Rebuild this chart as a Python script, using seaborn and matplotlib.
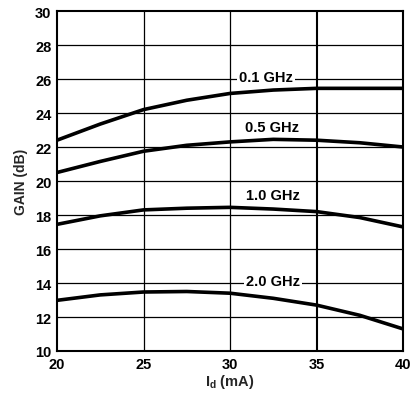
import matplotlib
matplotlib.use("Agg")
import matplotlib.pyplot as plt
import seaborn as sns
import pandas as pd

# Data
current_ma = [20, 22.5, 25, 27.5, 30, 32.5, 35, 37.5, 40]
gain_01 = [22.4, 23.35, 24.2, 24.75, 25.15, 25.35, 25.45, 25.45, 25.45]
gain_05 = [20.5, 21.15, 21.75, 22.1, 22.3, 22.45, 22.4, 22.25, 22.0]
gain_10 = [17.45, 17.95, 18.3, 18.4, 18.45, 18.35, 18.2, 17.85, 17.3]
gain_20 = [12.98, 13.3, 13.47, 13.5, 13.4, 13.1, 12.7, 12.1, 11.3]
freq_labels = ["0.1 GHz", "0.5 GHz", "1.0 GHz", "2.0 GHz"]
label_pos = [(32.1, 26.1), (32.4, 23.15), (32.5, 19.15), (32.5, 14.1)]
label_bg = [True, False, False, True]
x_ticks = [20, 25, 30, 35, 40]
y_ticks = [10, 12, 14, 16, 18, 20, 22, 24, 26, 28, 30]

sns.set_theme(style="white")
plt.rcParams["font.family"] = ["Liberation Sans", "DejaVu Sans"]
plt.rcParams["mathtext.fontset"] = "custom"
plt.rcParams["mathtext.bf"] = "Liberation Sans:bold"
plt.rcParams["mathtext.rm"] = "Liberation Sans:bold"
plt.rcParams["mathtext.default"] = "bf"

frames = []
for lab, g in zip(freq_labels, [gain_01, gain_05, gain_10, gain_20]):
    frames.append(pd.DataFrame({"Id": current_ma, "gain": g, "freq": lab}))
df = pd.concat(frames, ignore_index=True)

fig = plt.figure(figsize=(4.11, 4.02), dpi=100)
ax = fig.add_axes([57/411, 1 - 352/402, (403 - 57)/411, (352 - 12)/402])

# grid
for yv in y_ticks[1:-1]:
    ax.axhline(yv, color="black", lw=0.9, zorder=1)
for xv in [25, 30]:
    ax.axvline(xv, color="black", lw=0.9, zorder=1)
ax.axvline(35, color="black", lw=1.5, zorder=1)

sns.lineplot(data=df, x="Id", y="gain", hue="freq",
             palette=["black"] * 4, legend=False, lw=2.6, ax=ax, zorder=3)

for lab, (lx, ly), bg in zip(freq_labels, label_pos, label_bg):
    kw = {}
    if bg:
        kw["bbox"] = dict(facecolor="white", edgecolor="none", pad=1.5)
    ax.text(lx, ly, lab, ha="center", va="center", fontsize=10.5,
            fontweight="bold", color="black", zorder=4, **kw)

ax.set_xlim(20, 40)
ax.set_ylim(10, 30)
ax.set_xticks(x_ticks)
ax.set_yticks(y_ticks)
ax.set_xticklabels([str(v) for v in x_ticks], fontsize=10.5, fontweight="bold")
ax.set_yticklabels([str(v) for v in y_ticks], fontsize=10.5, fontweight="bold")
ax.tick_params(axis="both", length=0, pad=4, colors="black")
ax.set_xlabel(r"I$_{d}$ (mA)", fontsize=10.5, fontweight="bold", labelpad=1)
ax.set_ylabel("GAIN (dB)", fontsize=10, fontweight="bold", labelpad=5)
for s in ax.spines.values():
    s.set_color("black")
    s.set_linewidth(1.5)
    s.set_visible(True)

fig.savefig("out.png", dpi=100, facecolor="white")
